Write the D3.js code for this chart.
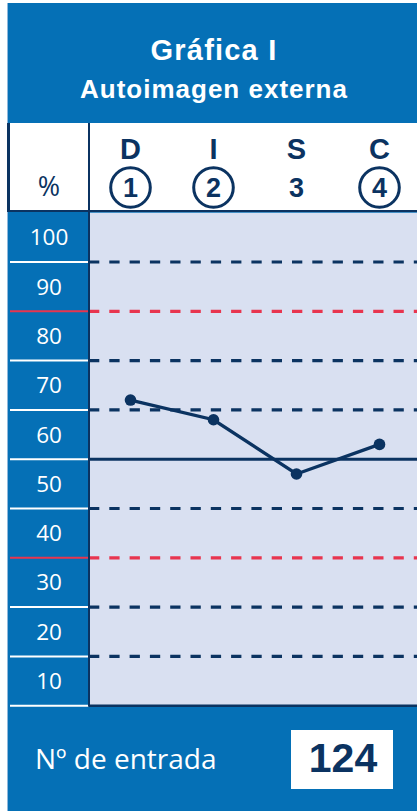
<!DOCTYPE html>
<html>
<head>
<meta charset="utf-8">
<script src="https://cdn.jsdelivr.net/npm/d3@7"></script>
<style>
  body { margin: 0; background: #fff; }
  svg { display: block; }
</style>
</head>
<body>
<svg width="417" height="811"></svg>
<script>
let width = 417,
    height = 811;

// chart values
let factors = ["D", "I", "S", "C"];
let factorNums = ["1", "2", "3", "4"];
let circled = [true, true, false, true];
let scores = [62, 58, 47, 53];
let bandLabels = [100, 90, 80, 70, 60, 50, 40, 30, 20, 10];
let gridValues = [90, 80, 70, 60, 40, 30, 20, 10];
let redValues = [80, 30];
let midValue = 50;
let entryNumber = "124";

const blue = "#0570b6",
      navy = "#0b3361",
      lav = "#d9e0f1",
      red = "#e8354f";

const svg = d3.select("svg");

const yScale = d3.scaleLinear().domain([0, 100]).range([705.7, 212.7]);
const xScale = d3.scaleBand().domain(factors).range([89, 421]);
const cx = d => xScale(d) + xScale.bandwidth() / 2;

// outer blue panel
svg.append("rect").attr("x", 7).attr("y", 3).attr("width", width - 7).attr("height", height - 3).attr("fill", blue);
svg.append("line").attr("x1", 7.5).attr("x2", 7.5).attr("y1", 3).attr("y2", height)
  .attr("stroke", "#8fb8dc").attr("stroke-width", 1);

// title
svg.append("text").attr("x", 214).attr("y", 60).attr("text-anchor", "middle")
  .attr("fill", "#fff").attr("font-family", "Liberation Sans, Arial, sans-serif")
  .attr("font-weight", "bold").attr("font-size", 29).attr("letter-spacing", 1.2)
  .text("Gráfica I");
svg.append("text").attr("x", 214).attr("y", 98).attr("text-anchor", "middle")
  .attr("fill", "#fff").attr("font-family", "Liberation Sans, Arial, sans-serif")
  .attr("font-weight", "bold").attr("font-size", 26).attr("letter-spacing", 1)
  .text("Autoimagen externa");

// header row
svg.append("rect").attr("x", 7).attr("y", 123).attr("width", width - 7).attr("height", 89).attr("fill", "#fff");
svg.append("line").attr("x1", 8.5).attr("x2", 8.5).attr("y1", 123).attr("y2", 212)
  .attr("stroke", navy).attr("stroke-width", 3);
svg.append("line").attr("x1", 7).attr("x2", width).attr("y1", 211).attr("y2", 211)
  .attr("stroke", navy).attr("stroke-width", 2);

svg.append("text").attr("x", 49).attr("y", 196).attr("text-anchor", "middle")
  .attr("fill", navy).attr("font-family", "Open Sans, sans-serif").attr("font-size", 27)
  .text("%");

const heads = svg.append("g").selectAll("g").data(factors).join("g");
heads.append("text").attr("x", d => cx(d)).attr("y", 159).attr("text-anchor", "middle")
  .attr("fill", navy).attr("font-family", "Liberation Sans, Arial, sans-serif")
  .attr("font-weight", "bold").attr("font-size", 29).text(d => d);
heads.filter((d, i) => circled[i]).append("circle")
  .attr("cx", d => cx(d)).attr("cy", 187.5).attr("r", 19.8)
  .attr("fill", "none").attr("stroke", navy).attr("stroke-width", 3);
heads.append("text").attr("x", d => cx(d)).attr("y", 197).attr("text-anchor", "middle")
  .attr("fill", navy).attr("font-family", "Liberation Sans, Arial, sans-serif")
  .attr("font-weight", "bold").attr("font-size", 27).text((d, i) => factorNums[i]);

// plot background
svg.append("rect").attr("x", 89).attr("y", yScale(100)).attr("width", width - 89)
  .attr("height", yScale(0) - yScale(100)).attr("fill", lav);

// left column separators
svg.append("g").selectAll("line").data(gridValues.concat([midValue, 0])).join("line")
  .attr("x1", 10).attr("x2", 89)
  .attr("y1", d => yScale(d)).attr("y2", d => yScale(d))
  .attr("stroke", d => redValues.includes(d) ? red : "#fff").attr("stroke-width", 2);

svg.append("g").selectAll("text").data(bandLabels).join("text")
  .attr("x", 49).attr("y", d => yScale(d - 5) + 8).attr("text-anchor", "middle")
  .attr("fill", "#fff").attr("font-family", "Open Sans, sans-serif").attr("font-size", 22.5)
  .text(d => d);

// grid lines in plot
svg.append("g").selectAll("line").data(gridValues).join("line")
  .attr("x1", 89).attr("x2", width)
  .attr("y1", d => yScale(d)).attr("y2", d => yScale(d))
  .attr("stroke", d => redValues.includes(d) ? red : navy)
  .attr("stroke-width", 3.2).attr("stroke-dasharray", "10.3 10");

svg.append("line").attr("x1", 89).attr("x2", width)
  .attr("y1", yScale(midValue)).attr("y2", yScale(midValue))
  .attr("stroke", navy).attr("stroke-width", 3);

// plot borders
svg.append("line").attr("x1", 89).attr("x2", 89).attr("y1", 123).attr("y2", yScale(0) + 1)
  .attr("stroke", navy).attr("stroke-width", 2);
svg.append("line").attr("x1", 89).attr("x2", width).attr("y1", yScale(0)).attr("y2", yScale(0))
  .attr("stroke", navy).attr("stroke-width", 2.5);

// profile line
const line = d3.line().x((d, i) => cx(factors[i])).y(d => yScale(d));
svg.append("path").datum(scores).attr("d", line)
  .attr("fill", "none").attr("stroke", navy).attr("stroke-width", 3.3);
svg.append("g").selectAll("circle").data(scores).join("circle")
  .attr("cx", (d, i) => cx(factors[i])).attr("cy", d => yScale(d)).attr("r", 5.8)
  .attr("fill", navy);

// footer
svg.append("text").attr("x", 35).attr("y", 769)
  .attr("fill", "#fff").attr("font-family", "Open Sans, sans-serif").attr("font-size", 28)
  .text("Nº de entrada");
svg.append("rect").attr("x", 291).attr("y", 730).attr("width", 102).attr("height", 59).attr("fill", "#fff");
svg.append("text").attr("x", 343).attr("y", 772).attr("text-anchor", "middle")
  .attr("fill", navy).attr("font-family", "Liberation Sans, Arial, sans-serif")
  .attr("font-weight", "bold").attr("font-size", 41).text(entryNumber);
</script>
</body>
</html>
